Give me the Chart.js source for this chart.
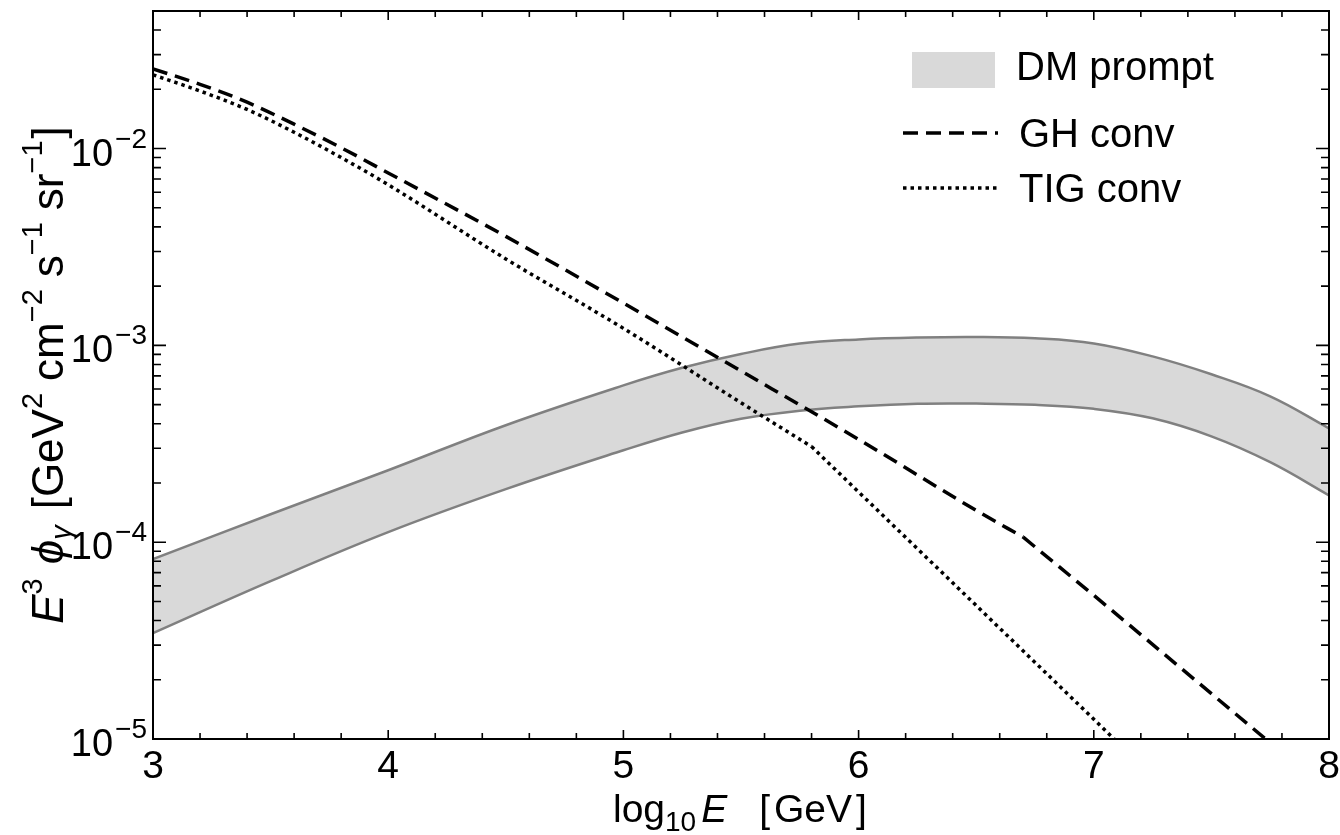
<!DOCTYPE html>
<html><head><meta charset="utf-8">
<script src="https://cdn.jsdelivr.net/npm/chart.js@4.4.0/dist/chart.umd.min.js"></script>
<style>html,body{margin:0;padding:0;background:#fff;} #wrap{width:1340px;height:835px;position:relative;}</style>
</head><body><div id="wrap"><canvas id="c"></canvas></div>
<script>
// ---- data ----
const bandX = [3,3.5,4,4.5,5,5.25,5.5,5.75,6,6.25,6.5,6.75,7,7.25,7.5,7.75,8];
const bandUpper = [8.20e-5,1.387e-4,2.32e-4,3.93e-4,6.26e-4,7.69e-4,9.04e-4,1.021e-3,1.072e-3,1.097e-3,1.104e-3,1.086e-3,1.023e-3,8.79e-4,7.13e-4,5.51e-4,3.79e-4];
const bandLower = [3.45e-5,6.34e-5,1.125e-4,1.86e-4,2.93e-4,3.61e-4,4.24e-4,4.66e-4,4.90e-4,5.05e-4,5.06e-4,4.99e-4,4.76e-4,4.26e-4,3.45e-4,2.55e-4,1.73e-4];
const ghX = [3,3.2,3.4,3.6,3.8,4,4.5,5,5.5,6,6.5,6.7,7,7.5,8];
const ghY = [0.0254,0.0212,0.0172,0.01330,0.01010,0.00752,0.00358,0.00164,7.41e-4,3.33e-4,1.45e-4,1.06e-4,5.37e-5,1.70e-5,5.37e-6];
const ghKink = 6.7;
const tigX = [3,3.2,3.4,3.6,3.8,4,4.5,5,5.5,5.8,6.4,7,7.5];
const tigY = [0.0237,0.0196,0.0158,0.0121,0.00900,0.00655,0.00275,0.00122,5.11e-4,3.06e-4,6.22e-5,1.26e-5,3.31e-6];
const tigKink = 5.8;
const xTickLabels = [3,4,5,6,7,8];
const yTickValues = [1e-5,1e-4,1e-3,1e-2];
const yTickExps = ['\u22125','\u22124','\u22123','\u22122'];
const legendLabels = ['DM prompt','GH conv','TIG conv'];

const FONT = '"Liberation Sans", Arial, Helvetica, sans-serif';
function fnt(size, style){ return (style ? style + ' ' : '') + size + 'px ' + FONT; }
function runsWidth(ctx, runs){
  let w = 0;
  for (const r of runs){ w += r.gap || 0; ctx.font = fnt(r.size, r.style); w += ctx.measureText(r.t).width; }
  return w;
}
function drawRuns(ctx, runs, x, y){
  let cx = x;
  for (const r of runs){
    cx += r.gap || 0;
    ctx.font = fnt(r.size, r.style);
    ctx.fillText(r.t, cx, y + (r.dy || 0));
    cx += ctx.measureText(r.t).width;
  }
}

const DASH = [15, 8];
const DOT = [3.5, 4];
const BAND_FILL = '#d9d9d9';
const BAND_EDGE = '#808080';

const frame = {
  id: 'frame',
  afterDraw(chart){
    const {ctx, chartArea: a, scales: {x, y}} = chart;
    ctx.save();
    ctx.strokeStyle = '#000';
    ctx.fillStyle = '#000';
    ctx.lineWidth = 1.6;
    ctx.beginPath();
    for (let i = 0; i <= 25; i++){
      const v = 3 + i / 5;
      const px = x.getPixelForValue(v);
      const len = (i % 5 === 0) ? 9 : 6;
      ctx.moveTo(px, a.bottom); ctx.lineTo(px, a.bottom - len);
      ctx.moveTo(px, a.top); ctx.lineTo(px, a.top + len);
    }
    for (let d = -5; d <= -2; d++){
      for (let m = 1; m <= 9; m++){
        const v = m * Math.pow(10, d);
        if (v >= 0.05) continue;
        const py = y.getPixelForValue(v);
        const len = (m === 1) ? 13 : 8;
        ctx.moveTo(a.left, py); ctx.lineTo(a.left + len, py);
        ctx.moveTo(a.right, py); ctx.lineTo(a.right - len, py);
      }
    }
    ctx.stroke();
    ctx.lineWidth = 2;
    ctx.strokeRect(a.left, a.top, a.right - a.left, a.bottom - a.top);

    ctx.textBaseline = 'alphabetic';
    ctx.textAlign = 'center';
    ctx.font = fnt(39);
    for (const v of xTickLabels){
      ctx.fillText(String(v), x.getPixelForValue(v), 778);
    }
    ctx.textAlign = 'left';
    yTickValues.forEach((v, i) => {
      const py = y.getPixelForValue(v);
      ctx.font = fnt(28);
      const sw = ctx.measureText(yTickExps[i]).width;
      ctx.font = fnt(38);
      const bw = ctx.measureText('10').width;
      const right = 147;
      ctx.font = fnt(28);
      ctx.fillText(yTickExps[i], right - sw, py - 1);
      ctx.font = fnt(38);
      ctx.fillText('10', right - sw - 2 - bw, py + 17);
    });

    const xRuns = [
      {t:'log', size:39},
      {t:'10', size:28, dy:9},
      {t:'E', size:39, style:'italic', gap:5},
      {t:'[', size:39, gap:32},
      {t:'GeV', size:39, gap:4},
      {t:']', size:39, gap:4}
    ];
    drawRuns(ctx, xRuns, 613, 822);

    const yRuns = [
      {t:'E', size:44, style:'italic'},
      {t:'3', size:29, dy:-21},
      {t:'\u03D5', size:44, style:'italic', gap:14},
      {t:'\u03B3', size:29, style:'italic', dy:8},
      {t:'[GeV', size:44, gap:16},
      {t:'2', size:29, dy:-21},
      {t:'cm', size:44, gap:12},
      {t:'\u22122', size:29, dy:-21},
      {t:'s', size:44, gap:12},
      {t:'\u22121', size:29, dy:-21},
      {t:'sr', size:44, gap:12},
      {t:'\u22121', size:29, dy:-21},
      {t:']', size:44, gap:2}
    ];
    const W = runsWidth(ctx, yRuns);
    ctx.save();
    ctx.translate(63, (a.top + a.bottom) / 2);
    ctx.rotate(-Math.PI / 2);
    drawRuns(ctx, yRuns, -W / 2, 0);
    ctx.restore();

    ctx.fillStyle = BAND_FILL;
    ctx.fillRect(912, 52, 83, 36);
    ctx.fillStyle = '#000';
    ctx.font = fnt(40);
    ctx.fillText(legendLabels[0], 1016, 80);
    ctx.fillText(legendLabels[1], 1019, 147);
    ctx.fillText(legendLabels[2], 1019, 202);
    ctx.lineWidth = 3.5;
    ctx.lineCap = 'butt';
    ctx.setLineDash(DASH);
    ctx.beginPath(); ctx.moveTo(903, 133); ctx.lineTo(998, 133); ctx.stroke();
    ctx.setLineDash(DOT);
    ctx.beginPath(); ctx.moveTo(903, 188); ctx.lineTo(998, 188); ctx.stroke();
    ctx.restore();
  }
};

const pts = (xs, ys) => xs.map((v, i) => ({x: v, y: ys[i]}));
const before = (xs, ys, k) => pts(xs, ys).filter(p => p.x <= k);
const after = (xs, ys, k) => pts(xs, ys).filter(p => p.x >= k);
const lineStyle = (dash, smooth) => ({borderColor: '#000', borderWidth: 3.5, borderDash: dash, pointRadius: 0,
  fill: false, order: 0, clip: 0, cubicInterpolationMode: smooth ? 'monotone' : 'default', tension: 0});

new Chart(document.getElementById('c'), {
  type: 'line',
  data: {
    datasets: [
      Object.assign({label: legendLabels[1], data: before(ghX, ghY, ghKink)}, lineStyle(DASH, true)),
      Object.assign({label: legendLabels[1] + ' (high)', data: after(ghX, ghY, ghKink)}, lineStyle(DASH, false)),
      Object.assign({label: legendLabels[2], data: before(tigX, tigY, tigKink)}, lineStyle(DOT, true)),
      Object.assign({label: legendLabels[2] + ' (high)', data: after(tigX, tigY, tigKink)}, lineStyle(DOT, false)),
      {label: legendLabels[0], data: pts(bandX, bandUpper), borderColor: BAND_EDGE, borderWidth: 2.5,
       backgroundColor: BAND_FILL, fill: '+1', tension: 0.4, pointRadius: 0, order: 2, clip: 0},
      {label: 'DM lower', data: pts(bandX, bandLower), borderColor: BAND_EDGE, borderWidth: 2.5,
       fill: false, tension: 0.4, pointRadius: 0, order: 1, clip: 0}
    ]
  },
  options: {
    responsive: true,
    maintainAspectRatio: false,
    animation: false,
    layout: {padding: {left: 153, right: 11, top: 11, bottom: 96}},
    plugins: {legend: {display: false}, tooltip: {enabled: false}},
    scales: {
      x: {type: 'linear', min: 3, max: 8, display: false},
      y: {type: 'logarithmic', min: 1e-5, max: 0.05, display: false}
    }
  },
  plugins: [frame]
});
</script>
</body></html>
